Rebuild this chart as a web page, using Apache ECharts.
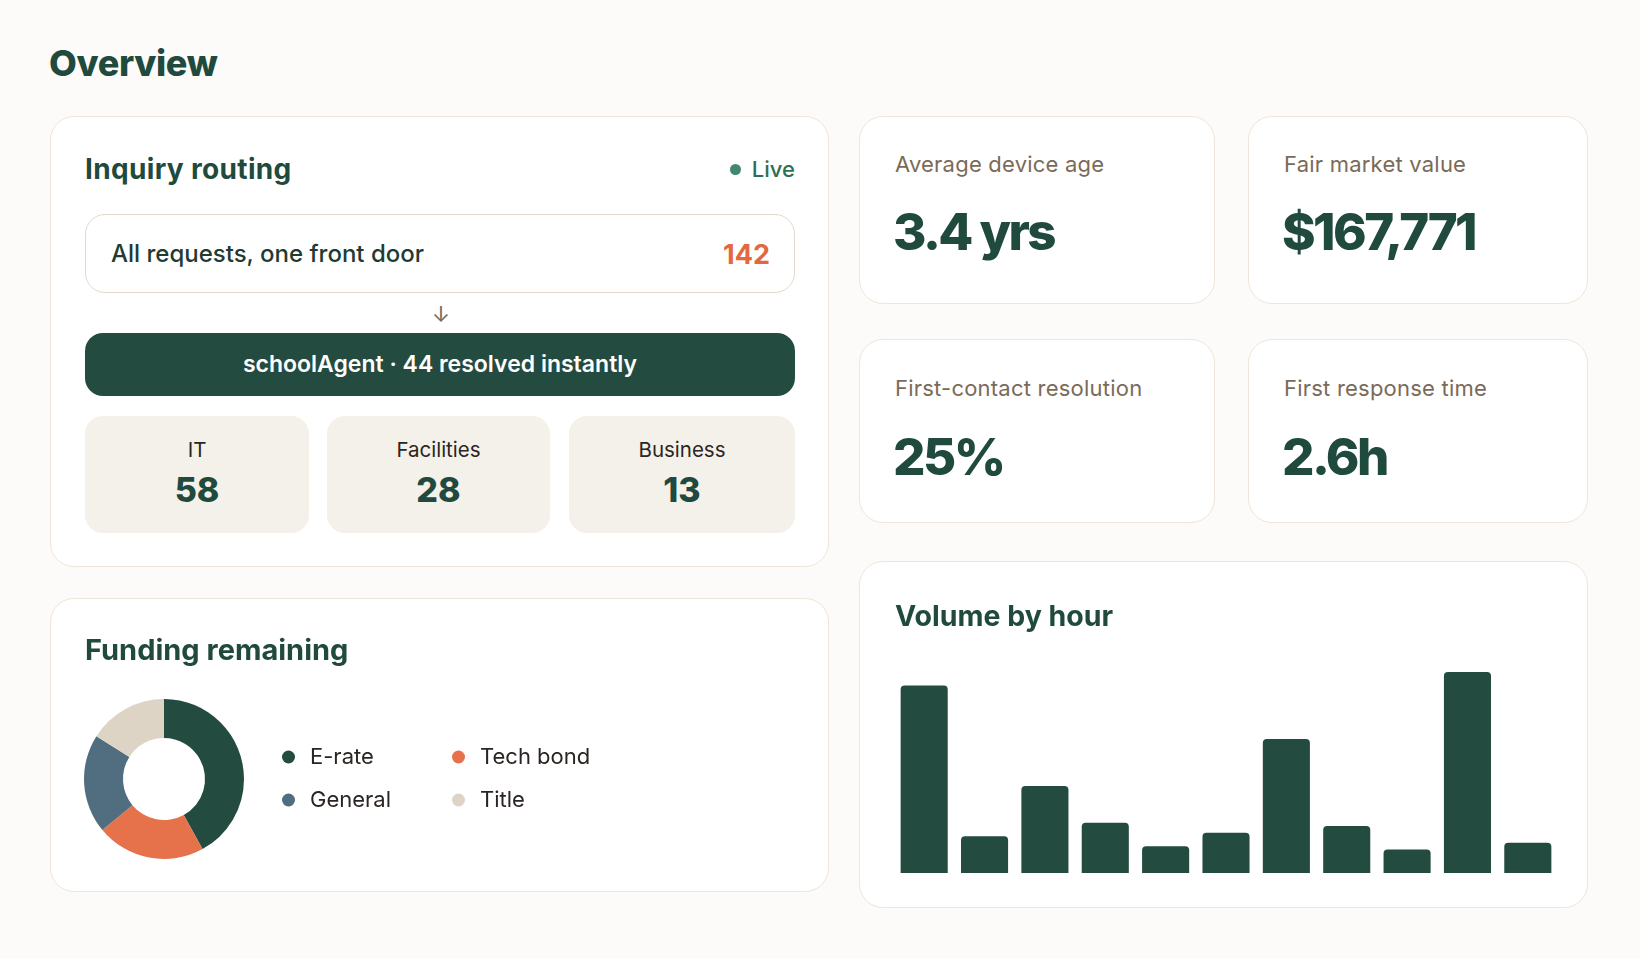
<!DOCTYPE html>
<html>
<head>
<meta charset="utf-8">
<title>Overview</title>
<script src="https://cdn.jsdelivr.net/npm/echarts@6/dist/echarts.min.js"></script>
<style>
    body {
        margin: 0;
        width: 1640px;
        height: 959px;
        position: relative;
        overflow: hidden;
        background: #fcfbf9;
        font-family: Inter, "Noto Sans", sans-serif;
        color: #1f4a3d;
    }
    .abs { position: absolute; line-height: 1; white-space: nowrap; }
    .card {
        position: absolute;
        box-sizing: border-box;
        background: #fff;
        border: 1.5px solid #eee6da;
        border-radius: 24px;
    }
    .chart { position: absolute; left: 0; top: 0; width: 100%; height: 100%; }
    .title { font-size: 28px; font-weight: 700; color: #1f4a3d; letter-spacing: 0.012em; }
    .stat-label { font-size: 22px; color: #7b6a58; letter-spacing: 0.01em; }
    .stat-value { font-size: 51px; font-weight: 800; color: #1f4a3d; letter-spacing: -0.05em; }
    .tile {
        position: absolute;
        top: 416px;
        height: 117px;
        background: #f4f0ea;
        border-radius: 18px;
    }
    .tile .lbl { position: absolute; left: 0; right: 0; top: 24px; text-align: center; font-size: 20.5px; line-height: 1; color: #2b2622; }
    .tile .num { position: absolute; left: 0; right: 0; top: 56.5px; text-align: center; font-size: 34px; line-height: 1; font-weight: 800; color: #1f4a3d; }
</style>
</head>
<body>
<div class="abs" style="left:49px;top:45px;font-size:36px;font-weight:800;letter-spacing:-0.01em;">Overview</div>

<!-- 路由卡片 -->
<div class="card" style="left:50px;top:116px;width:779px;height:451px;"></div>
<div class="abs title" style="left:85px;top:154.5px;">Inquiry routing</div>
<div class="abs" style="left:729.5px;top:163.5px;width:11px;height:11px;border-radius:50%;background:#3f8a6c;"></div>
<div class="abs" style="right:845px;top:158px;font-size:22px;font-weight:500;color:#2f6e57;">Live</div>

<div class="abs" style="left:85px;top:214px;width:710px;height:79px;box-sizing:border-box;border:1.5px solid #e2d9cc;border-radius:20px;background:#fff;"></div>
<div class="abs" style="left:111px;top:242px;font-size:24px;font-weight:500;color:#1f3b33;">All requests, one front door</div>
<div class="abs" id="total" style="right:870px;top:240.5px;font-size:27px;font-weight:700;color:#e5683c;"></div>
<div class="abs" style="left:430px;top:303px;width:22px;text-align:center;font-size:22px;color:#7b6b5b;">↓</div>

<div class="abs" id="agent" style="left:85px;top:333px;width:710px;height:63px;border-radius:18px;background:#244b3f;color:#fff;font-size:23px;font-weight:600;display:flex;align-items:center;justify-content:center;"></div>
<div id="tiles"></div>

<!-- 指标卡片 -->
<div class="card" style="left:859px;top:116px;width:356px;height:188px;"></div>
<div class="card" style="left:1248px;top:116px;width:340px;height:188px;"></div>
<div class="card" style="left:859px;top:339px;width:356px;height:184px;"></div>
<div class="card" style="left:1248px;top:339px;width:340px;height:184px;"></div>
<div id="stats"></div>

<!-- 图表卡片 -->
<div class="card" style="left:50px;top:598px;width:779px;height:294px;">
    <div class="chart" id="chart-funding"></div>
</div>
<div class="card" style="left:859px;top:561px;width:729px;height:347px;">
    <div class="chart" id="chart-volume"></div>
</div>

<script>
var totalRequests = 142;
var resolvedInstantly = 44;
var teamNames = ['IT', 'Facilities', 'Business'];
var teamCounts = [58, 28, 13];

var statLabels = ['Average device age', 'Fair market value', 'First-contact resolution', 'First response time'];
var statValues = ['3.4 yrs', '$167,771', '25%', '2.6h'];

var fundingNames = ['E-rate', 'Tech bond', 'General', 'Title'];
var fundingValues = [42, 22, 20, 16];

var hours = ['8', '9', '10', '11', '12', '13', '14', '15', '16', '17', '18'];
var hourlyVolume = [56, 11, 26, 15, 8, 12, 40, 14, 7, 60, 9];

var fundingColors = ['#234b3f', '#e6724b', '#506e7f', '#ded4c5'];
var barColor = '#234b3f';

window.onload = function()
{
    document.getElementById('total').textContent = totalRequests;
    document.getElementById('agent').textContent = 'schoolAgent · ' + resolvedInstantly + ' resolved instantly';

    //三个分流小块
    var tileLeft = [85, 327, 569];
    var tileWidth = [224, 223, 226];
    var html = '';
    for (let i = 0; i < teamNames.length; i++) {
        html += '<div class="tile" style="left:' + tileLeft[i] + 'px;width:' + tileWidth[i] + 'px;">' +
            '<div class="lbl">' + teamNames[i] + '</div><div class="num">' + teamCounts[i] + '</div></div>';
    }
    document.getElementById('tiles').innerHTML = html;

    //四个指标
    var statX = [895, 1284, 895, 1284];
    var labelY = [153, 153, 377, 377];
    var valueY = [206, 206, 431, 431];
    html = '';
    for (let i = 0; i < statLabels.length; i++) {
        html += '<div class="abs stat-label" style="left:' + statX[i] + 'px;top:' + labelY[i] + 'px;">' + statLabels[i] + '</div>';
        html += '<div class="abs stat-value" style="left:' + (statX[i] - 2) + 'px;top:' + valueY[i] + 'px;">' + statValues[i] + '</div>';
    }
    document.getElementById('stats').innerHTML = html;

    paintFunding();
    paintVolume();
}

function paintFunding()
{
    var myChart = echarts.init(document.getElementById('chart-funding'));
    var data = [];
    for (let i = 0; i < fundingNames.length; i++) {
        data.push({ name: fundingNames[i], value: fundingValues[i], itemStyle: { color: fundingColors[i] } });
    }
    var legendText = { fontFamily: 'Inter', fontSize: 22, color: '#2a2522', lineHeight: 24, padding: [0, 0, 0, 10] };
    var option = {
        animation: false,
        title: {
            text: 'Funding remaining',
            left: 34,
            top: 38,
            padding: 0,
            textStyle: { fontFamily: 'Inter', fontSize: 29, fontWeight: 700, color: '#1f4a3d', lineHeight: 29 }
        },
        legend: [
            {
                data: ['E-rate', 'General'],
                orient: 'vertical',
                left: 231,
                top: 146,
                padding: 0,
                icon: 'circle',
                itemWidth: 13,
                itemHeight: 13,
                itemGap: 19,
                selectedMode: false,
                textStyle: legendText
            },
            {
                data: ['Tech bond', 'Title'],
                orient: 'vertical',
                left: 401,
                top: 146,
                padding: 0,
                icon: 'circle',
                itemWidth: 13,
                itemHeight: 13,
                itemGap: 19,
                selectedMode: false,
                textStyle: legendText
            }
        ],
        series: [{
            name: 'Funding remaining',
            type: 'pie',
            radius: [41, 80],
            center: [113, 180],
            startAngle: 90,
            clockwise: true,
            label: { show: false },
            labelLine: { show: false },
            emphasis: { disabled: true },
            data: data
        }]
    };
    myChart.setOption(option);
}

function paintVolume()
{
    var myChart = echarts.init(document.getElementById('chart-volume'));
    var option = {
        animation: false,
        title: {
            text: 'Volume by hour',
            left: 35,
            top: 41,
            padding: 0,
            textStyle: { fontFamily: 'Inter', fontSize: 28.5, fontWeight: 700, color: '#1f4a3d', lineHeight: 29 }
        },
        grid: { left: 34, right: 29, top: 110, bottom: 34 },
        xAxis: {
            type: 'category',
            data: hours,
            show: false
        },
        yAxis: {
            type: 'value',
            min: 0,
            max: 60,
            show: false
        },
        series: [{
            name: 'Volume',
            type: 'bar',
            data: hourlyVolume,
            barCategoryGap: '22%',
            itemStyle: { color: barColor, borderRadius: [4, 4, 0, 0] }
        }]
    };
    myChart.setOption(option);
}
</script>
</body>
</html>
